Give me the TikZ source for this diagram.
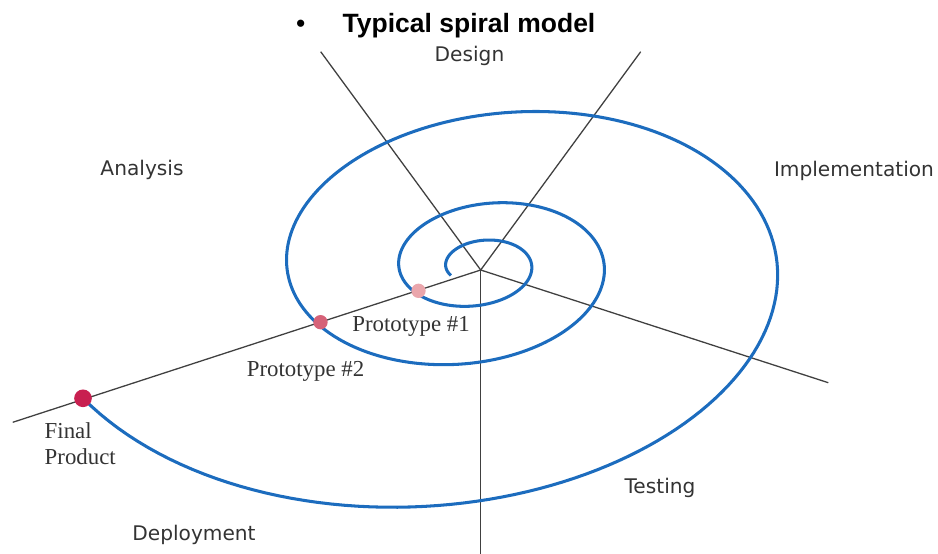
\documentclass[tikz,border=0pt]{standalone}
\usepackage{fontspec}
\setmainfont{Liberation Serif}
\setsansfont{DejaVu Sans}
\newfontfamily\titlefont{Liberation Sans}
\usetikzlibrary{positioning}

\definecolor{spiralblue}{RGB}{28,108,190}
\definecolor{protoA}{RGB}{234,166,172}
\definecolor{protoB}{RGB}{214,98,120}
\definecolor{protoC}{RGB}{200,32,80}

\begin{document}
\begin{tikzpicture}[x=0.03cm, y=-0.03cm, font=\sffamily]

        % Setup the styles for labels, lines and dots
        \tikzset{phase label/.style={anchor=base,
                                     inner sep=0pt,
                                     text=black!80,
                                     font=\sffamily\fontsize{17.2}{20}\selectfont},
                 proto label/.style={anchor=base,
                                     inner sep=0pt,
                                     text=black!80,
                                     font=\rmfamily\fontsize{19.5}{22}\selectfont},
                 axis line/.style={draw=black!75, line width=1.1pt},
                 spiral line/.style={draw=spiralblue, line width=2.6pt},
                 proto dot/.style={circle, inner sep=0pt, minimum size=0.43cm}}

        \useasboundingbox (0,0) rectangle (938,554);

        % Title
        \node[anchor=base, inner sep=0pt,
              font=\titlefont\fontsize{22.6}{26}\selectfont] at (300.8, 32.7) (bullet) {\textbullet};
        \node[anchor=base west, inner sep=0pt,
              font=\titlefont\bfseries\fontsize{22.6}{26}\selectfont] at (342.5, 32.7) (title) {Typical spiral model};

        % Centre and the ends of the phase borders
        \coordinate (C)  at (480.7, 270);
        \coordinate (UL) at (320.7, 51.7);
        \coordinate (UR) at (640.7, 51.7);
        \coordinate (LR) at (828.3, 382.7);
        \coordinate (DN) at (480.7, 556);
        \coordinate (LL) at (12.7, 422.3);

        % Draw the phase borders
        \draw[axis line] (C) -- (UL);
        \draw[axis line] (C) -- (UR);
        \draw[axis line] (C) -- (LR);
        \draw[axis line] (C) -- (DN);
        \draw[axis line] (C) -- (LL);

        % Draw the spiral
        \draw[spiral line] plot[domain=150:1231.5, samples=540, variable=\t]
              ({479.5 + 21.9*exp(0.435*\t/180)*cos(\t) - 1.835*exp(0.4466*\t/180)*sin(\t)},
               {265.9 + 13.11*exp(0.4466*\t/180)*sin(\t)});

        % Draw the prototypes
        \node[proto dot, fill=protoA] at (418.5, 290.8) (P1) {};
        \node[proto dot, fill=protoB] at (320.5, 322.2) (P2) {};
        \node[proto dot, fill=protoC, minimum size=0.53cm] at (83, 398.3) (FP) {};

        % Draw the phase labels
        \node[phase label] at (469.5, 61)    (design)  {Design};
        \node[phase label] at (142, 175.5)   (analysis) {Analysis};
        \node[phase label] at (854, 176)     (impl)    {Implementation};
        \node[phase label] at (660, 493.3)   (testing) {Testing};
        \node[phase label] at (194, 540)     (deploy)  {Deployment};

        % Draw the prototype labels
        \node[proto label] at (411, 331.7)   (lab1)    {Prototype \#1};
        \node[proto label] at (305.5, 376.7) (lab2)    {Prototype \#2};
        \node[proto label, anchor=base west] at (44.5, 438) (labF) {Final};
        \node[proto label, anchor=base west] at (44.5, 464) (labP) {Product};
    \end{tikzpicture}
\end{document}
